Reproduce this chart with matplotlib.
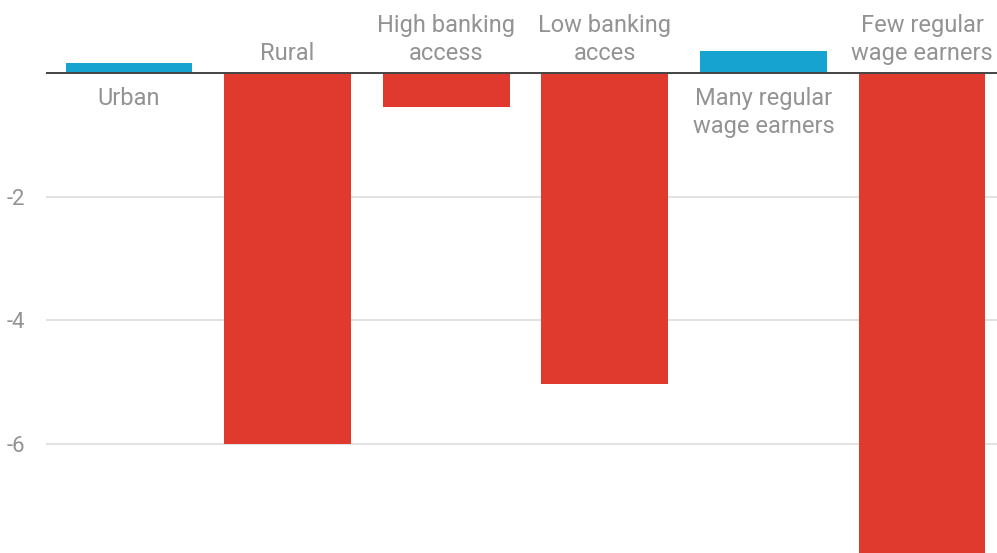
import matplotlib
matplotlib.use('Agg')
import matplotlib.pyplot as plt

categories = ['Urban', 'Rural', 'High banking\naccess', 'Low banking\nacces',
              'Many regular\nwage earners', 'Few regular\nwage earners']
values = [0.16, -6.0, -0.55, -5.02, 0.36, -8.2]
yticks = [-6, -4, -2]

blue = '#17a3cf'
red = '#e03a2e'
grey_text = '#939393'

plt.rcParams['font.family'] = ['Roboto', 'DejaVu Sans']

fig = plt.figure(figsize=(9.97, 5.53), dpi=100)
ax = fig.add_axes([46/997, 0, 1 - 46/997, 1])

x = list(range(len(values)))
colors = [blue if v > 0 else red for v in values]
ax.bar(x, values, width=0.8, color=colors, zorder=3)

ax.set_xlim(-0.523, 5.473)
ax.set_ylim(-7.76, 1.18)

for v in yticks:
    ax.axhline(v, color='#dddddd', lw=1.2, zorder=1)
ax.axhline(0, color='#444444', lw=1.4, zorder=4)

ax.set_yticks(yticks)
ax.set_yticklabels([str(t) for t in yticks])
ax.tick_params(axis='y', length=0, pad=15, labelsize=16, labelcolor=grey_text)
ax.set_xticks([])
for s in ax.spines.values():
    s.set_visible(False)

for i, (lab, v) in enumerate(zip(categories, values)):
    if v < 0:
        ax.annotate(lab, (i, 0), xytext=(0, 6), textcoords='offset points',
                    ha='center', va='bottom', fontsize=17, color=grey_text,
                    linespacing=1.28)
    else:
        ax.annotate(lab, (i, 0), xytext=(0, -10), textcoords='offset points',
                    ha='center', va='top', fontsize=17, color=grey_text,
                    linespacing=1.28)

fig.savefig('out.png', dpi=100)
